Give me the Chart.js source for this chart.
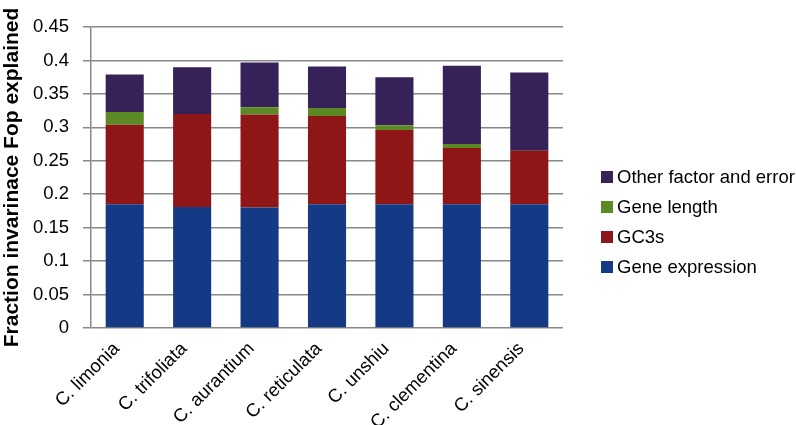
<!DOCTYPE html>
<html>
<head>
<meta charset="utf-8">
<script src="https://cdn.jsdelivr.net/npm/chart.js@4/dist/chart.umd.min.js"></script>
<style>
  html, body { margin: 0; padding: 0; background: #fff; }
  #wrap { width: 796px; height: 425px; position: relative; }
</style>
</head>
<body>
<div id="wrap"><canvas id="chart"></canvas></div>
<script>
const species = ["C. limonia", "C. trifoliata", "C. aurantium", "C. reticulata", "C. unshiu", "C. clementina", "C. sinensis"];
const geneExpression = [0.185, 0.181, 0.180, 0.185, 0.185, 0.185, 0.185];
const gc3s = [0.119, 0.139, 0.139, 0.132, 0.111, 0.084, 0.080];
const geneLength = [0.019, 0.0, 0.011, 0.012, 0.007, 0.006, 0.0];
const otherError = [0.056, 0.070, 0.067, 0.062, 0.072, 0.117, 0.117];
const yTicks = [0, 0.05, 0.1, 0.15, 0.2, 0.25, 0.3, 0.35, 0.4, 0.45];

const FONT = "'Liberation Sans', Arial, sans-serif";

// legend drawn by hand so it sits where the original one does
const sideLegend = {
  id: "sideLegend",
  afterDraw(chart) {
    const ctx = chart.ctx;
    const items = chart.data.datasets.slice().reverse();
    ctx.save();
    ctx.font = "18.5px " + FONT;
    ctx.textBaseline = "middle";
    items.forEach((ds, i) => {
      const y = 177 + i * 30;
      ctx.fillStyle = ds.backgroundColor;
      ctx.fillRect(601, y - 6, 12, 12);
      ctx.fillStyle = "#000";
      ctx.fillText(ds.label, 617, y + 1);
    });
    ctx.restore();
  },
};

const ctx = document.getElementById("chart").getContext("2d");
new Chart(ctx, {
  type: "bar",
  data: {
    labels: species,
    datasets: [
      { label: "Gene expression", data: geneExpression, backgroundColor: "#153a85" },
      { label: "GC3s", data: gc3s, backgroundColor: "#8e1616" },
      { label: "Gene length", data: geneLength, backgroundColor: "#5b8a24" },
      { label: "Other factor and error", data: otherError, backgroundColor: "#362159" },
    ],
  },
  options: {
    responsive: true,
    maintainAspectRatio: false,
    animation: false,
    datasets: {
      bar: { categoryPercentage: 1, barPercentage: 0.565 },
    },
    layout: { padding: { left: 0, top: 27, right: 233, bottom: 0 } },
    scales: {
      x: {
        stacked: true,
        grid: { display: false },
        border: { display: false },
        ticks: {
          color: "#000",
          minRotation: 45,
          maxRotation: 45,
          padding: 2,
          labelOffset: -8,
          font: { family: FONT, size: 18.5 },
        },
        afterFit: (scale) => { scale.height = 97; },
      },
      y: {
        stacked: true,
        min: 0,
        max: 0.45,
        afterBuildTicks: (scale) => { scale.ticks = yTicks.map((v) => ({ value: v })); },
        grid: { color: "#888", lineWidth: 1.5, tickLength: 8 },
        border: { display: true, color: "#888", width: 1.5 },
        ticks: {
          color: "#000",
          padding: 14,
          font: { family: FONT, size: 18.5 },
          callback: (v) => String(+v.toFixed(2)),
        },
        title: {
          display: true,
          text: "Fraction invarinace Fop explained",
          color: "#000",
          padding: 0,
          font: { family: FONT, size: 21, weight: "bold" },
        },
        afterFit: (scale) => { scale.width = 91; },
      },
    },
    plugins: {
      legend: { display: false },
      tooltip: { enabled: false },
    },
  },
  plugins: [sideLegend],
});
</script>
</body>
</html>
